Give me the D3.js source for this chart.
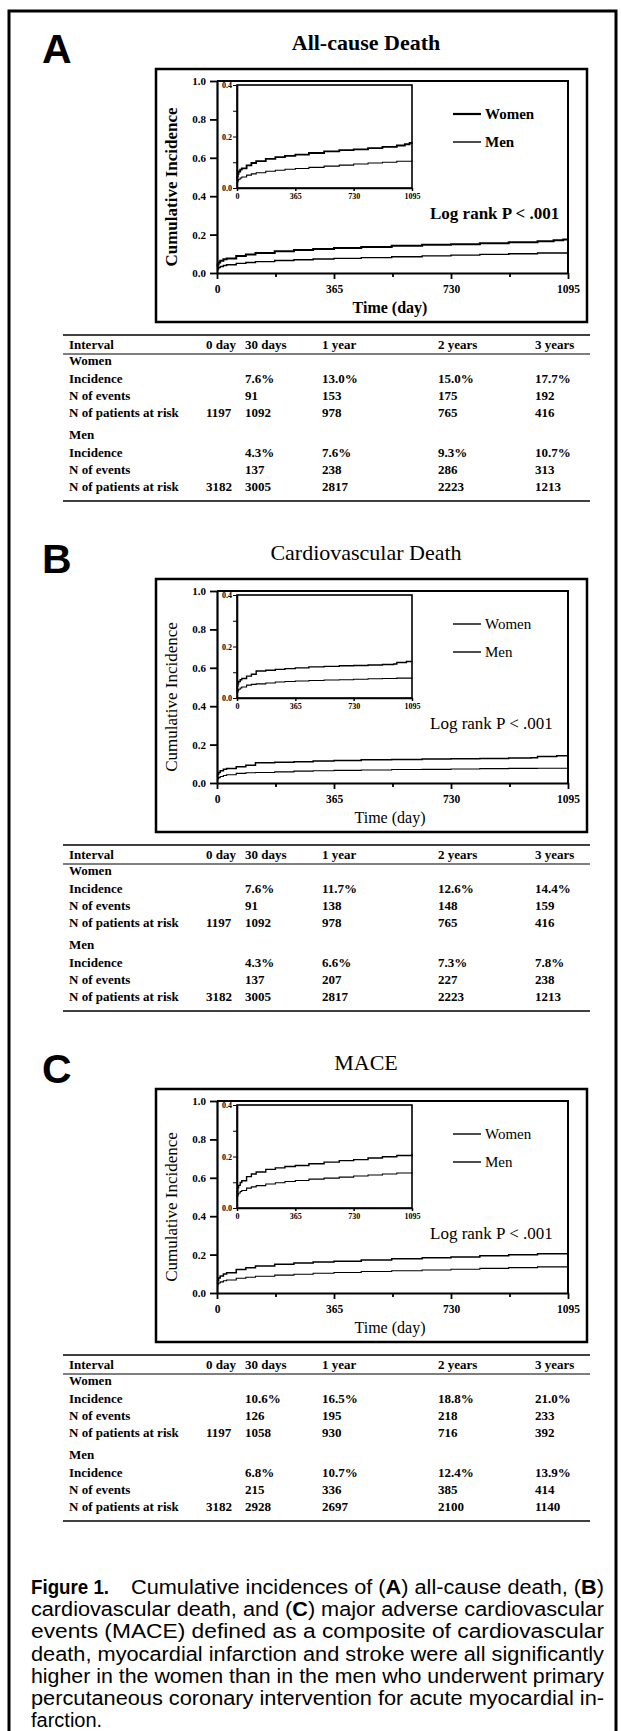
<!DOCTYPE html>
<html>
<head>
<meta charset="utf-8">
<script src="https://cdn.jsdelivr.net/npm/d3@7"></script>
<style>
  body { margin: 0; background: #fff; }
  svg { display: block; }
</style>
</head>
<body>
<svg id="fig" width="621" height="1731"></svg>
<script>
// panels
const panelLetters = ["A", "B", "C"];
const panelTitles = ["All-cause Death", "Cardiovascular Death", "MACE"];
const seriesNames = ["Women", "Men"];

// axes
const yTicks = [0, 0.2, 0.4, 0.6, 0.8, 1.0];
const insetYTicks = [0, 0.1, 0.2, 0.3, 0.4];
const insetYLabels = [0, 0.2, 0.4];
const dayTicks = [0, 182.5, 365, 547.5, 730, 912.5, 1095];
const dayLabels = [0, 365, 730, 1095];

// cumulative incidence curves, [day, incidence]
const womenAllCause = [[0,0.030],[2,0.045],[5,0.055],[10,0.064],[20,0.071],[30,0.076],[60,0.088],[90,0.097],[120,0.104],[180,0.113],[240,0.120],[300,0.125],[365,0.130],[450,0.136],[545,0.142],[640,0.147],[730,0.150],[820,0.155],[910,0.160],[1000,0.165],[1050,0.170],[1080,0.175],[1095,0.177]];
const menAllCause = [[0,0.015],[2,0.022],[5,0.028],[10,0.034],[20,0.039],[30,0.043],[60,0.050],[90,0.055],[120,0.059],[180,0.065],[240,0.069],[300,0.073],[365,0.076],[450,0.080],[545,0.085],[640,0.089],[730,0.093],[820,0.097],[910,0.100],[1000,0.104],[1095,0.107]];
const womenCardio = [[0,0.030],[2,0.045],[5,0.055],[10,0.064],[20,0.071],[30,0.076],[60,0.085],[90,0.092],[120,0.105],[180,0.108],[240,0.111],[300,0.114],[365,0.117],[450,0.121],[545,0.123],[640,0.125],[730,0.126],[820,0.128],[910,0.130],[980,0.132],[1000,0.138],[1060,0.142],[1095,0.144]];
const menCardio = [[0,0.015],[2,0.022],[5,0.028],[10,0.034],[20,0.039],[30,0.043],[60,0.050],[90,0.053],[120,0.055],[180,0.058],[240,0.062],[300,0.064],[365,0.066],[450,0.068],[545,0.070],[640,0.071],[730,0.073],[820,0.075],[910,0.076],[1000,0.077],[1095,0.078]];
const womenMace = [[0,0.045],[2,0.065],[5,0.078],[10,0.088],[20,0.099],[30,0.106],[60,0.122],[90,0.132],[120,0.140],[180,0.150],[240,0.156],[300,0.161],[365,0.165],[450,0.172],[545,0.178],[640,0.184],[730,0.188],[820,0.194],[910,0.199],[1000,0.204],[1095,0.210]];
const menMace = [[0,0.035],[2,0.045],[5,0.052],[10,0.058],[20,0.064],[30,0.068],[60,0.077],[90,0.082],[120,0.087],[180,0.093],[240,0.098],[300,0.103],[365,0.107],[450,0.112],[545,0.116],[640,0.120],[730,0.124],[820,0.128],[910,0.132],[1000,0.136],[1095,0.139]];

// tables
const intervals = ["0 day", "30 days", "1 year", "2 years", "3 years"];
const rowLabels = ["Incidence", "N of events", "N of patients at risk"];

const womenIncidenceAllCause = ["", "7.6%", "13.0%", "15.0%", "17.7%"];
const womenEventsAllCause = ["", "91", "153", "175", "192"];
const womenAtRiskAllCause = ["1197", "1092", "978", "765", "416"];
const menIncidenceAllCause = ["", "4.3%", "7.6%", "9.3%", "10.7%"];
const menEventsAllCause = ["", "137", "238", "286", "313"];
const menAtRiskAllCause = ["3182", "3005", "2817", "2223", "1213"];

const womenIncidenceCardio = ["", "7.6%", "11.7%", "12.6%", "14.4%"];
const womenEventsCardio = ["", "91", "138", "148", "159"];
const womenAtRiskCardio = ["1197", "1092", "978", "765", "416"];
const menIncidenceCardio = ["", "4.3%", "6.6%", "7.3%", "7.8%"];
const menEventsCardio = ["", "137", "207", "227", "238"];
const menAtRiskCardio = ["3182", "3005", "2817", "2223", "1213"];

const womenIncidenceMace = ["", "10.6%", "16.5%", "18.8%", "21.0%"];
const womenEventsMace = ["", "126", "195", "218", "233"];
const womenAtRiskMace = ["1197", "1058", "930", "716", "392"];
const menIncidenceMace = ["", "6.8%", "10.7%", "12.4%", "13.9%"];
const menEventsMace = ["", "215", "336", "385", "414"];
const menAtRiskMace = ["3182", "2928", "2697", "2100", "1140"];

const serif = "'Liberation Serif','Times New Roman',serif";
const sans = "'Liberation Sans',Arial,sans-serif";

const svg = d3.select("#fig");

svg.append("rect")
    .attr("x", 9).attr("y", 11)
    .attr("width", 607).attr("height", 1760)
    .attr("fill", "none").attr("stroke", "#000").attr("stroke-width", 3);

const panels = [
  {women: womenAllCause, men: menAllCause, heavy: true,
   table: [[womenIncidenceAllCause, womenEventsAllCause, womenAtRiskAllCause],
           [menIncidenceAllCause, menEventsAllCause, menAtRiskAllCause]]},
  {women: womenCardio, men: menCardio, heavy: false,
   table: [[womenIncidenceCardio, womenEventsCardio, womenAtRiskCardio],
           [menIncidenceCardio, menEventsCardio, menAtRiskCardio]]},
  {women: womenMace, men: menMace, heavy: false,
   table: [[womenIncidenceMace, womenEventsMace, womenAtRiskMace],
           [menIncidenceMace, menEventsMace, menAtRiskMace]]}
];

function styleAxis(ax, size) {
  ax.attr("font-family", serif).attr("font-size", size).attr("font-weight", "bold");
  ax.selectAll("text").attr("fill", "#000");
  ax.selectAll("line").attr("stroke", "#000");
}

function drawPanel(p, i) {
  const top = i * 510;
  const g = svg.append("g");
  const wt = p.heavy ? "bold" : "normal";

  g.append("text")
      .attr("x", 42).attr("y", top + 63)
      .attr("font-family", sans).attr("font-weight", "bold").attr("font-size", 41)
      .text(panelLetters[i]);

  g.append("text")
      .attr("x", 366).attr("y", top + 50)
      .attr("text-anchor", "middle")
      .attr("font-family", serif).attr("font-weight", wt).attr("font-size", 22)
      .text(panelTitles[i]);

  g.append("rect")
      .attr("x", 156).attr("y", top + 69)
      .attr("width", 431).attr("height", 253)
      .attr("fill", "none").attr("stroke", "#000").attr("stroke-width", 2.5);

  const x = d3.scaleLinear().domain([0, 1095]).range([217, 568]);
  const y = d3.scaleLinear().domain([0, 1]).range([top + 273, top + 81]);

  const yAxis = g.append("g")
      .attr("transform", "translate(" + x(0) + ",0)")
      .call(d3.axisLeft(y).tickValues(yTicks).tickFormat(d3.format(".1f"))
            .tickSize(7).tickSizeOuter(0).tickPadding(4));
  styleAxis(yAxis, 11);
  yAxis.select(".domain").attr("stroke-width", 2.2);
  yAxis.selectAll("line").attr("stroke-width", 1.8);

  const xAxis = g.append("g")
      .attr("transform", "translate(0," + y(0) + ")")
      .call(d3.axisBottom(x).tickValues(dayTicks)
            .tickFormat(d => dayLabels.includes(d) ? d : "")
            .tickSize(6).tickSizeOuter(0).tickPadding(6));
  styleAxis(xAxis, 11.5);
  xAxis.select(".domain").attr("stroke-width", 2.2);
  xAxis.selectAll("line").attr("stroke-width", 1.8)
      .attr("y2", d => dayLabels.includes(d) ? 6 : 4);

  // plot frame, top and right
  g.append("path")
      .attr("d", "M" + x(0) + "," + y(1) + "H" + x(1095) + "V" + y(0))
      .attr("fill", "none").attr("stroke", "#000").attr("stroke-width", 2);

  const line = d3.line().x(d => x(d[0])).y(d => y(d[1])).curve(d3.curveStepAfter);
  g.append("path").datum(p.women).attr("d", line)
      .attr("fill", "none").attr("stroke", "#000").attr("stroke-width", p.heavy ? 2 : 1.5);
  g.append("path").datum(p.men).attr("d", line)
      .attr("fill", "none").attr("stroke", "#000").attr("stroke-width", p.heavy ? 1.4 : 1.1);

  // inset, zoom of 0-0.4
  const xi = d3.scaleLinear().domain([0, 1095]).range([237, 412]);
  const yi = d3.scaleLinear().domain([0, 0.4]).range([top + 188, top + 85]);

  g.append("rect")
      .attr("x", xi(0)).attr("y", yi(0.4))
      .attr("width", xi(1095) - xi(0)).attr("height", yi(0) - yi(0.4))
      .attr("fill", "#fff").attr("stroke", "#000").attr("stroke-width", 1.6);

  const yiAxis = g.append("g")
      .attr("transform", "translate(" + xi(0) + ",0)")
      .call(d3.axisLeft(yi).tickValues(insetYTicks)
            .tickFormat(d => insetYLabels.includes(d) ? d.toFixed(1) : "")
            .tickSize(4).tickSizeOuter(0).tickPadding(1));
  styleAxis(yiAxis, 8);
  yiAxis.select(".domain").attr("stroke-width", 1.6);

  const xiAxis = g.append("g")
      .attr("transform", "translate(0," + yi(0) + ")")
      .call(d3.axisBottom(xi).tickValues(dayLabels).tickFormat(d3.format("d"))
            .tickSize(3).tickSizeOuter(0).tickPadding(2));
  styleAxis(xiAxis, 8);
  xiAxis.select(".domain").attr("stroke-width", 1.6);
  xiAxis.selectAll("line").attr("stroke-width", 1.5);

  const lineInset = d3.line().x(d => xi(d[0])).y(d => yi(d[1])).curve(d3.curveStepAfter);
  g.append("path").datum(p.women).attr("d", lineInset)
      .attr("fill", "none").attr("stroke", "#000").attr("stroke-width", p.heavy ? 1.8 : 1.4);
  g.append("path").datum(p.men).attr("d", lineInset)
      .attr("fill", "none").attr("stroke", "#000").attr("stroke-width", 1.1);

  // legend
  seriesNames.forEach((name, k) => {
    const ly = top + 114 + k * 28;
    g.append("line")
        .attr("x1", 453).attr("x2", 481).attr("y1", ly).attr("y2", ly)
        .attr("stroke", "#000").attr("stroke-width", k == 0 && p.heavy ? 2.2 : 1.4);
    g.append("text")
        .attr("x", 485).attr("y", ly + 5)
        .attr("font-family", serif).attr("font-weight", wt).attr("font-size", 15)
        .text(name);
  });

  g.append("text")
      .attr("x", 430).attr("y", top + 219)
      .attr("font-family", serif).attr("font-weight", wt).attr("font-size", 17)
      .text("Log rank P < .001");

  g.append("text")
      .attr("transform", "translate(177," + (top + 187) + ") rotate(-90)")
      .attr("text-anchor", "middle")
      .attr("font-family", serif).attr("font-weight", wt).attr("font-size", 17)
      .text("Cumulative Incidence");

  g.append("text")
      .attr("x", 390).attr("y", top + 313)
      .attr("text-anchor", "middle")
      .attr("font-family", serif).attr("font-weight", wt).attr("font-size", 16)
      .text("Time (day)");

  drawTable(g, top + 335, p.table);
}

function drawTable(g, t, table) {
  const colX = [206, 245, 322, 438, 535];
  const labelX = 69;
  const tg = g.append("g")
      .attr("font-family", serif).attr("font-weight", "bold").attr("font-size", 13);

  tg.append("line").attr("x1", 63).attr("x2", 590).attr("y1", t).attr("y2", t)
      .attr("stroke", "#000").attr("stroke-width", 1.6);
  tg.append("line").attr("x1", 63).attr("x2", 590).attr("y1", t + 19).attr("y2", t + 19)
      .attr("stroke", "#000").attr("stroke-width", 1.1);
  tg.append("line").attr("x1", 63).attr("x2", 590).attr("y1", t + 166).attr("y2", t + 166)
      .attr("stroke", "#000").attr("stroke-width", 1.6);

  tg.append("text").attr("x", labelX).attr("y", t + 14).text("Interval");
  tg.selectAll(".hd").data(intervals).enter().append("text")
      .attr("class", "hd")
      .attr("x", (d, j) => colX[j]).attr("y", t + 14)
      .text(d => d);

  const groupY = [t + 30, t + 104];
  seriesNames.forEach((name, k) => {
    tg.append("text").attr("x", labelX).attr("y", groupY[k]).text(name);
    rowLabels.forEach((lab, r) => {
      const ry = groupY[k] + 18 + r * 17;
      tg.append("text").attr("x", labelX).attr("y", ry).text(lab);
      tg.append("g").selectAll("text").data(table[k][r]).enter().append("text")
          .attr("x", (d, j) => colX[j]).attr("y", ry)
          .text(d => d);
    });
  });
}

panels.forEach(drawPanel);

// caption, justified line by line
const captionLines = [
  [["Cumulative incidences of (", false], ["A", true], [") all-cause death, (", false], ["B", true], [")", false]],
  [["cardiovascular death, and (", false], ["C", true], [") major adverse cardiovascular", false]],
  [["events (MACE) defined as a composite of cardiovascular", false]],
  [["death, myocardial infarction and stroke were all significantly", false]],
  [["higher in the women than in the men who underwent primary", false]],
  [["percutaneous coronary intervention for acute myocardial in-", false]],
  [["farction.", false]]
];

const capTop = 1594, capStep = 22.2;
const cap = svg.append("g").attr("font-family", sans).attr("font-size", 20).attr("fill", "#000");
cap.append("text")
    .attr("x", 31).attr("y", capTop)
    .attr("font-weight", "bold")
    .attr("textLength", 78).attr("lengthAdjust", "spacingAndGlyphs")
    .text("Figure 1.");

captionLines.forEach((segs, i) => {
  const x0 = i == 0 ? 131 : 31;
  const t = cap.append("text").attr("x", x0).attr("y", capTop + i * capStep);
  segs.forEach(s => {
    t.append("tspan").attr("font-weight", s[1] ? "bold" : "normal").text(s[0]);
  });
  if (i < captionLines.length - 1) {
    t.attr("textLength", 604 - x0).attr("lengthAdjust", "spacingAndGlyphs");
  }
});
</script>
</body>
</html>
